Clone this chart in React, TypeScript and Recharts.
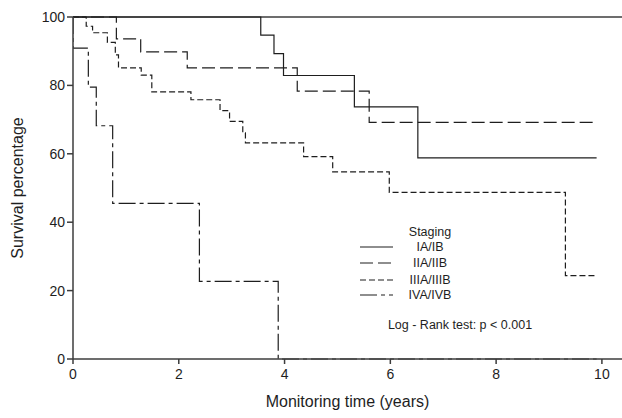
import { Label, Line, LineChart, ReferenceLine, XAxis, YAxis } from "recharts";

// Kaplan-Meier steps (years, survival %)
const iaTimes = [0, 3.55, 3.8, 3.98, 5.32, 6.52, 9.9];
const iaValues = [100, 94.7, 89.3, 82.9, 73.7, 58.8, 58.8];

const iiaTimes = [0, 0.82, 1.28, 2.16, 4.24, 5.6, 9.9];
const iiaValues = [100, 93.6, 89.8, 85.1, 78.3, 69.2, 69.2];

const iiiaTimes = [0, 0.25, 0.37, 0.65, 0.8, 0.86, 1.29, 1.49, 2.23, 2.78, 2.96, 3.21, 3.26, 4.36, 4.91, 5.98, 9.31, 9.9];
const iiiaValues = [100, 97.3, 95.4, 92.6, 88.9, 85.1, 83.0, 78.1, 75.8, 72.6, 69.5, 66.1, 63.2, 59.2, 54.7, 48.7, 24.4, 24.4];

const ivaTimes = [0, 0, 0.29, 0.44, 0.75, 2.39, 3.88, 9.9];
const ivaValues = [100, 90.9, 79.5, 68.2, 45.5, 22.7, 0, 0];

const xTicks = [0, 2, 4, 6, 8, 10];
const yTicks = [0, 20, 40, 60, 80, 100];

const legendTitle = "Staging";
const stageNames = ["IA/IB", "IIA/IIB", "IIIA/IIIB", "IVA/IVB"];
const logRankText = "Log - Rank test: p < 0.001";

const INK = "#1e1e1e";
const AXIS = "#3c3c3c";
const FONT = "'Liberation Sans', Arial, Helvetica, sans-serif";

const DASHES = ["", "13 5", "6 3", "17 4 4 4"];

function toPoints(times: number[], values: number[]) {
  return times.map((t, i) => ({ t, v: values[i] }));
}

const curves = [
  toPoints(iaTimes, iaValues),
  toPoints(iiaTimes, iiaValues),
  toPoints(iiiaTimes, iiiaValues),
  toPoints(ivaTimes, ivaValues),
];

function StagingLegend() {
  const rowY = [25, 41, 58, 73];
  return (
    <svg width={210} height={112} style={{ overflow: "visible", display: "block" }}>
      <text x={75} y={10} textAnchor="middle" dominantBaseline="central" fontSize={12.5} fill={INK} fontFamily={FONT}>
        {legendTitle}
      </text>
      {stageNames.map((name, i) => (
        <g key={name}>
          <line x1={5} x2={38} y1={rowY[i]} y2={rowY[i]} stroke={INK} strokeWidth={1.2} strokeDasharray={DASHES[i] || undefined} />
          <text x={75} y={rowY[i]} textAnchor="middle" dominantBaseline="central" fontSize={12.5} fill={INK} fontFamily={FONT}>
            {name}
          </text>
        </g>
      ))}
      <text x={105} y={103} textAnchor="middle" dominantBaseline="central" fontSize={12.5} fill={INK} fontFamily={FONT}>
        {logRankText}
      </text>
    </svg>
  );
}

export default function App() {
  return (
    <div style={{ position: "absolute", left: 0, top: 0, width: 622, height: 418, background: "#fff" }}>
      <LineChart width={622} height={418} margin={{ top: 17, right: 0, bottom: 9, left: 0 }}>
        <XAxis
          type="number"
          dataKey="t"
          domain={[0, 10.38]}
          ticks={xTicks}
          allowDataOverflow
          stroke={AXIS}
          strokeWidth={1.5}
          tickSize={5}
          tickMargin={5}
          height={50}
          tick={{ fontSize: 14, fill: INK, fontFamily: FONT }}
        >
          <Label
            value="Monitoring time (years)"
            position="insideBottom"
            offset={2}
            style={{ fontSize: 16, fill: INK, fontFamily: FONT }}
          />
        </XAxis>
        <YAxis
          type="number"
          domain={[0, 100]}
          ticks={yTicks}
          width={73}
          stroke={AXIS}
          strokeWidth={1.5}
          tickSize={6}
          tickMargin={2}
          tick={{ fontSize: 14, fill: INK, fontFamily: FONT }}
        >
          <Label
            content={({ viewBox }: any) => {
              const cx = viewBox.x + 17;
              const cy = viewBox.y + viewBox.height / 2;
              return (
                <text
                  x={cx}
                  y={cy}
                  transform={`rotate(-90 ${cx} ${cy})`}
                  textAnchor="middle"
                  dominantBaseline="central"
                  fontSize={16}
                  fill={INK}
                  fontFamily={FONT}
                >
                  Survival percentage
                </text>
              );
            }}
          />
        </YAxis>
        <ReferenceLine y={100} stroke={AXIS} strokeWidth={1.5} ifOverflow="visible" />
        {curves.map((data, i) => (
          <Line
            key={stageNames[i]}
            data={data}
            dataKey="v"
            name={stageNames[i]}
            type="stepAfter"
            stroke={INK}
            strokeWidth={1.2}
            strokeDasharray={DASHES[i] || undefined}
            dot={false}
            activeDot={false}
            isAnimationActive={false}
          />
        ))}
      </LineChart>
      <div style={{ position: "absolute", left: 355, top: 222 }}>
        <StagingLegend />
      </div>
    </div>
  );
}
